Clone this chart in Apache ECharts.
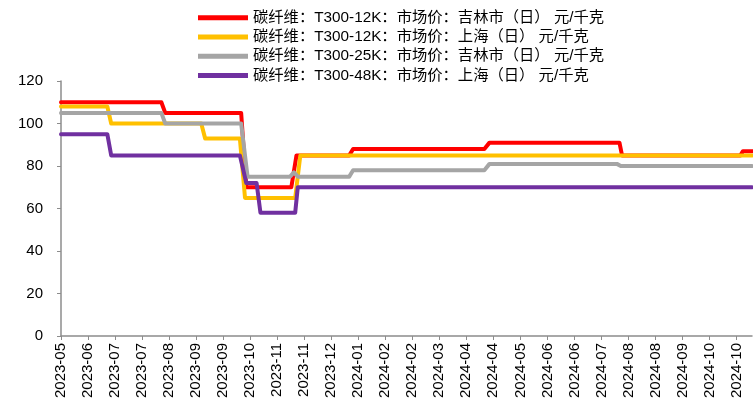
<!DOCTYPE html>
<html>
<head>
<meta charset="utf-8">
<script src="https://cdn.jsdelivr.net/npm/echarts@6/dist/echarts.min.js"></script>
<style>
  html, body { margin: 0; padding: 0; background: #fff; }
  #chart { width: 753px; height: 403px; }
</style>
</head>
<body>
<div id="chart"></div>
<script>
// 碳纤维市场价走势：横轴是“距 2023-05-25 的天数”，每 21 天一个刻度（跟原图一致）
const START = [2023, 4, 25];
const X_MAX = 537;
const X_STEP = 21;

const NAMES = [
  '碳纤维：T300-12K：市场价：吉林市（日） 元/千克',
  '碳纤维：T300-12K：市场价：上海（日） 元/千克',
  '碳纤维：T300-25K：市场价：吉林市（日） 元/千克',
  '碳纤维：T300-48K：市场价：上海（日） 元/千克',
];
const COLORS = ['#FF0000', '#FFC000', '#A5A5A5', '#7030A0'];

// [天数, 元/千克]，只记拐点
const t300_12k_jilin = [
  [0, 110], [78, 110], [81, 105], [140, 105], [144, 70], [179, 70], [183, 85],
  [224, 85], [227, 88], [329, 88], [333, 91], [434, 91], [436, 85], [528, 85],
  [530, 87], [537, 87],
];
const t300_12k_shanghai = [
  [0, 108], [36, 108], [39, 100], [109, 100], [112, 93], [139, 93], [143, 65],
  [182, 65], [186, 85], [537, 85],
];
const t300_25k_jilin = [
  [0, 105], [78, 105], [81, 100], [140, 100], [145, 75], [178, 75], [181, 77],
  [184, 75], [224, 75], [227, 78], [329, 78], [333, 81], [432, 81], [435, 80],
  [537, 80],
];
const t300_48k_shanghai = [
  [0, 95], [36, 95], [39, 85], [139, 85], [144, 72], [152, 72], [155, 58],
  [182, 58], [184, 70], [537, 70],
];
const SERIES_DATA = [t300_12k_jilin, t300_12k_shanghai, t300_25k_jilin, t300_48k_shanghai];

const FONT = '"Liberation Sans", Arial, "Noto Sans CJK SC", sans-serif';
const AXIS_GRAY = '#8C8C8C';

function dayLabel(v) {
  if (v % X_STEP) return '';
  const d = new Date(START[0], START[1], START[2] + v);
  return d.getFullYear() + '-' + String(d.getMonth() + 1).padStart(2, '0');
}

const chart = echarts.init(document.getElementById('chart'), null, { renderer: 'canvas' });
chart.setOption({
  animation: false,
  color: COLORS,
  legend: {
    orient: 'vertical',
    left: 193,
    top: 5,
    icon: 'rect',
    itemWidth: 50,
    itemHeight: 5,
    itemGap: 4,
    data: NAMES,
    textStyle: { color: '#000', fontSize: 15.3, lineHeight: 14, fontFamily: FONT },
  },
  grid: { left: 61, right: 1, top: 81, bottom: 67, containLabel: false },
  xAxis: {
    type: 'value',
    min: 0,
    max: X_MAX,
    interval: X_STEP,
    splitLine: { show: false },
    axisLine: { show: true, lineStyle: { color: AXIS_GRAY, width: 1.5 } },
    axisTick: { show: true, length: 4, lineStyle: { color: AXIS_GRAY } },
    axisLabel: {
      rotate: 90, margin: 7, color: '#000', fontSize: 15, fontFamily: FONT,
      showMaxLabel: false, formatter: dayLabel,
    },
  },
  yAxis: {
    type: 'value',
    min: 0,
    max: 120,
    interval: 20,
    splitLine: { show: false },
    axisLine: { show: true, lineStyle: { color: AXIS_GRAY, width: 1.5 } },
    axisTick: { show: true, length: 4, lineStyle: { color: AXIS_GRAY } },
    axisLabel: { margin: 18, color: '#000', fontSize: 15, fontFamily: FONT },
  },
  series: NAMES.map((name, i) => ({
    name,
    type: 'line',
    showSymbol: false,
    data: SERIES_DATA[i],
    lineStyle: { width: 4, color: COLORS[i], cap: 'round', join: 'round' },
    itemStyle: { color: COLORS[i] },
  })),
});
</script>
</body>
</html>
